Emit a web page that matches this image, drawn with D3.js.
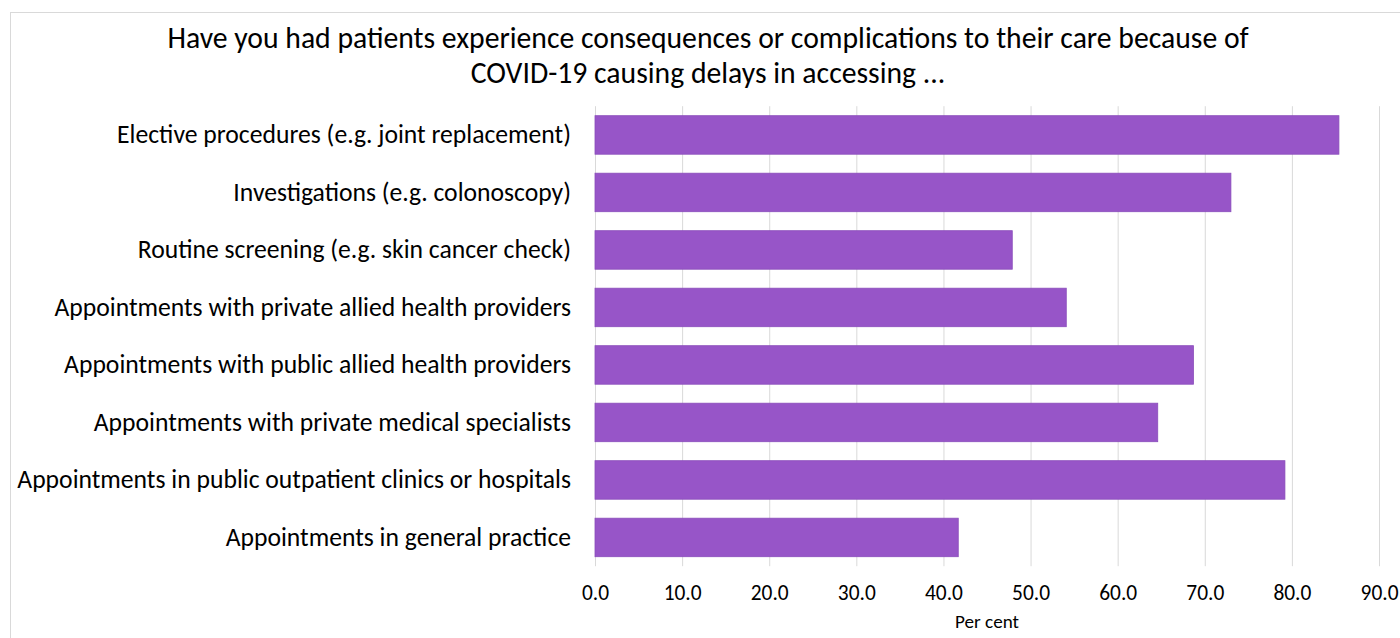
<!DOCTYPE html>
<html>
<head>
<meta charset="utf-8">
<script src="https://cdn.jsdelivr.net/npm/d3@7"></script>
<style>
  html, body { margin: 0; padding: 0; background: #fff; }
  svg { display: block; }
  text { font-family: Carlito, Calibri, "Open Sans", sans-serif; fill: #000; }
</style>
</head>
<body>
<svg id="chart" width="1400" height="638"></svg>
<script>
const titleLines = [
  "Have you had patients experience consequences or complications to their care because of",
  "COVID-19 causing delays in accessing ..."
];
const categories = [
  "Elective procedures (e.g. joint replacement)",
  "Investigations (e.g. colonoscopy)",
  "Routine screening (e.g. skin cancer check)",
  "Appointments with private allied health providers",
  "Appointments with public allied health providers",
  "Appointments with private medical specialists",
  "Appointments in public outpatient clinics or hospitals",
  "Appointments in general practice"
];
const values = [85.4, 73.0, 47.9, 54.1, 68.7, 64.6, 79.2, 41.7];
const xTicks = [0, 10, 20, 30, 40, 50, 60, 70, 80, 90];
const xAxisTitle = "Per cent";

const svg = d3.select("#chart");
const W = 1400, H = 638;
const plot = { left: 595, right: 1379, top: 106.2, bottom: 566.2 };

// outer frame
svg.append("rect")
  .attr("x", 10.5).attr("y", 12.5)
  .attr("width", 1420).attr("height", 660)
  .attr("fill", "#fff").attr("stroke", "#d9d9d9").attr("stroke-width", 1);

const x = d3.scaleLinear().domain([0, 90]).range([plot.left, plot.right]);
const y = d3.scaleBand().domain(categories).range([plot.top, plot.bottom])
  .paddingInner(0.33).paddingOuter(0.165);

// gridlines
const grid = svg.append("g")
  .attr("transform", `translate(0,${plot.bottom})`)
  .call(d3.axisBottom(x).tickValues(xTicks).tickSize(-(plot.bottom - plot.top)).tickFormat(""));
grid.select(".domain").remove();
grid.selectAll("line").attr("stroke", "#d9d9d9").attr("stroke-width", 1);

// bars
svg.append("g").selectAll("rect")
  .data(categories)
  .join("rect")
  .attr("x", x(0))
  .attr("y", d => y(d))
  .attr("width", (d, i) => x(values[i]) - x(0))
  .attr("height", y.bandwidth())
  .attr("fill", "#9755c8")
  .attr("stroke", "#8a4dbb")
  .attr("stroke-width", 0.8);

// helper: fit font size so a text's width matches a target width
function fitSize(sel, target, base) {
  sel.style("font-size", base + "px");
  const w = sel.node().getComputedTextLength();
  const s = base * target / w;
  return s;
}

// y axis labels
const yAxis = svg.append("g")
  .attr("transform", `translate(${plot.left},0)`)
  .call(d3.axisLeft(y).tickSize(0).tickPadding(24));
yAxis.select(".domain").remove();
yAxis.selectAll("text").attr("font-family", null).style("fill", "#000");
{
  const longest = yAxis.selectAll("text").filter(d => d === categories[6]);
  const s = fitSize(longest, 554, 20);
  yAxis.selectAll("text").style("font-size", s + "px");
}

// x axis tick labels
const xAxis = svg.append("g")
  .attr("transform", `translate(0,${plot.bottom})`)
  .call(d3.axisBottom(x).tickValues(xTicks).tickSize(0).tickPadding(19).tickFormat(d3.format(".1f")));
xAxis.select(".domain").remove();
xAxis.selectAll("text").attr("font-family", null).style("fill", "#000");
{
  const last = xAxis.selectAll("text").filter(d => d === 90);
  const s = fitSize(last, 38, 18);
  xAxis.selectAll("text").style("font-size", s + "px");
}

// x axis title
const xt = svg.append("text")
  .attr("x", (plot.left + plot.right) / 2)
  .attr("y", 628)
  .attr("text-anchor", "middle")
  .text(xAxisTitle);
xt.style("font-size", fitSize(xt, 64, 16) + "px");

// title
const t = svg.append("g");
const tl = t.selectAll("text").data(titleLines).join("text")
  .attr("x", 708)
  .attr("y", (d, i) => 48 + i * 35)
  .attr("text-anchor", "middle")
  .text(d => d);
{
  const s = fitSize(tl.filter((d, i) => i === 0), 1082, 24);
  tl.style("font-size", s + "px");
}
</script>
</body>
</html>
